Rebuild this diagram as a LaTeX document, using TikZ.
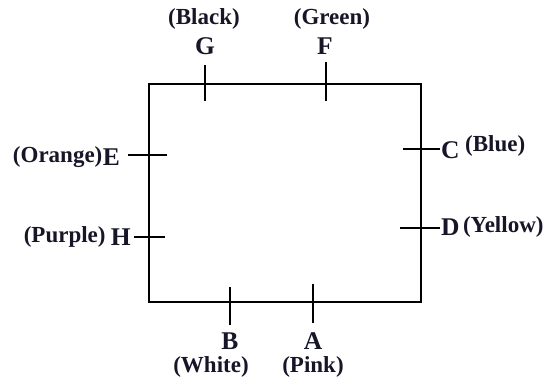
\documentclass[tikz,border=0pt]{standalone}
\usepackage{fontspec}
\setmainfont{Liberation Serif}
\usetikzlibrary{positioning}
\definecolor{inkdark}{RGB}{22,22,40}

\begin{document}
\begin{tikzpicture}[
    x=1pt, y=1pt,
    letter/.style={inner sep=0pt, text=inkdark, font=\fontsize{25.5}{25.5}\selectfont\bfseries},
    colorlabel/.style={inner sep=0pt, text=inkdark, font=\fontsize{23}{23}\selectfont\bfseries},
    tick/.style={line width=2.3pt, black},
    frame/.style={line width=2.6pt, black}
]
\useasboundingbox (0,0) rectangle (558,379);

% Frame
\draw[frame] (149,295) rectangle (421,77);

% Tick ends
\coordinate (g1) at (205,314); \coordinate (g2) at (205,278);
\coordinate (f1) at (326,317); \coordinate (f2) at (326,278);
\coordinate (e1) at (128,224); \coordinate (e2) at (167,224);
\coordinate (h1) at (134,142); \coordinate (h2) at (165,142);
\coordinate (c1) at (403,230); \coordinate (c2) at (440,230);
\coordinate (d1) at (400,151); \coordinate (d2) at (440,151);
\coordinate (b1) at (230,92);  \coordinate (b2) at (230,54);
\coordinate (a1) at (313,95);  \coordinate (a2) at (313,56);

\draw[tick] (g1) -- (g2);
\draw[tick] (f1) -- (f2);
\draw[tick] (e1) -- (e2);
\draw[tick] (h1) -- (h2);
\draw[tick] (c1) -- (c2);
\draw[tick] (d1) -- (d2);
\draw[tick] (b1) -- (b2);
\draw[tick] (a1) -- (a2);

% Letters
\node[letter] (G) at (205,333) {G};
\node[letter] (F) at (325,333) {F};
\node[letter, anchor=east] (E) at (120,222) {E};
\node[letter, anchor=east] (H) at (131,142) {H};
\node[letter, anchor=west] (C) at (441,229) {C};
\node[letter, anchor=west] (D) at (441,152) {D};
\node[letter] (B) at (230,38) {B};
\node[letter] (A) at (313,38) {A};

% Colours
\node[colorlabel] (black) at (204,360) {(Black)};
\node[colorlabel] (green) at (332,360) {(Green)};
\node[colorlabel, left=0pt of E] (orange) {(Orange)};
\node[colorlabel, left=5pt of H] (purple) {(Purple)};
\node[colorlabel, anchor=west] (blue) at (465,233) {(Blue)};
\node[colorlabel, right=3pt of D] (yellow) {(Yellow)};
\node[colorlabel] (white) at (211,12) {(White)};
\node[colorlabel] (pink) at (313,12) {(Pink)};

\end{tikzpicture}
\end{document}
